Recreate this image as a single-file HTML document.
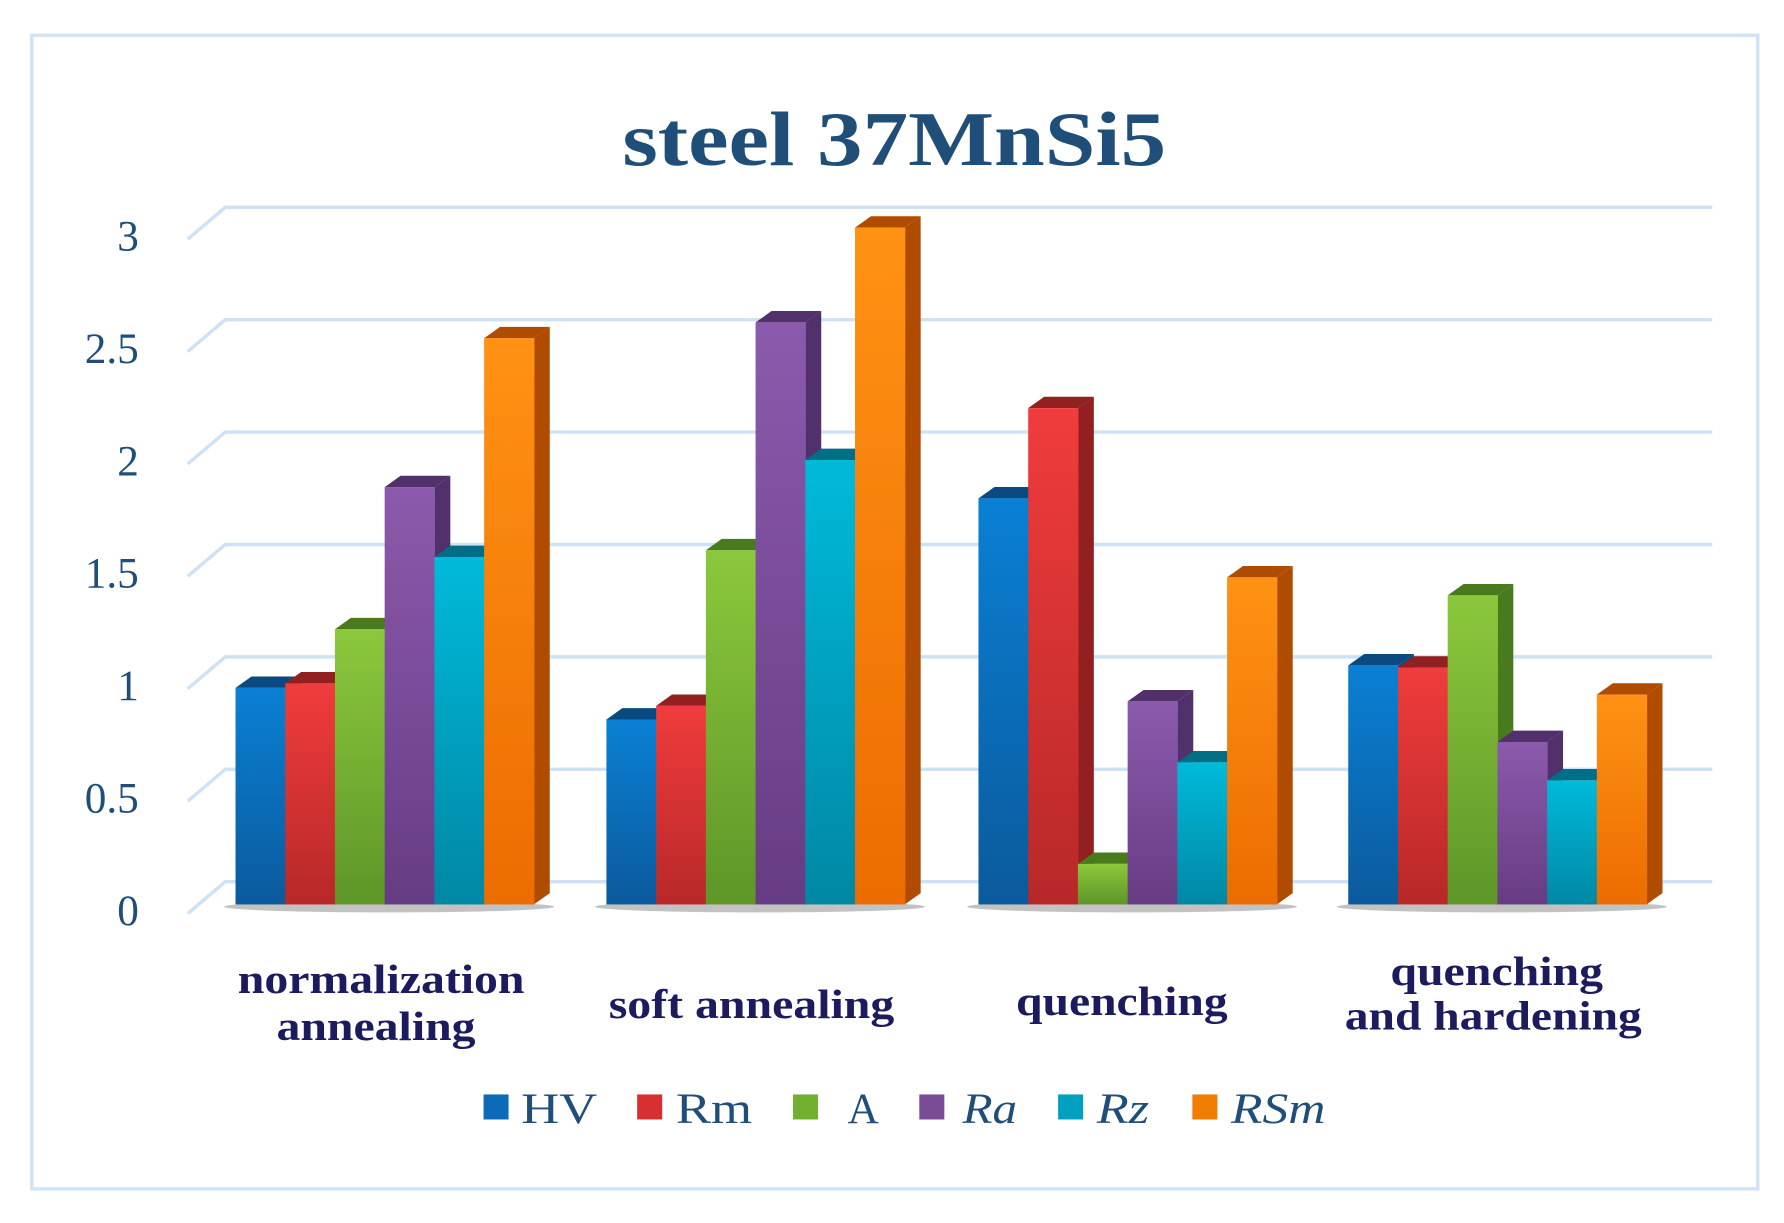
<!DOCTYPE html>
<html><head><meta charset="utf-8"><style>
html,body{margin:0;padding:0;background:#fff;width:1784px;height:1223px;overflow:hidden}
svg{display:block}
</style></head><body>
<svg id="s" width="1784" height="1223" viewBox="0 0 1568 1075" preserveAspectRatio="none" xmlns="http://www.w3.org/2000/svg">
<defs id="d"></defs>
<rect x="28" y="31" width="1517" height="1014" fill="#fff" stroke="#cfe3f3" stroke-width="3"/>
<text x="547" y="145" textLength="478" lengthAdjust="spacingAndGlyphs" font-family="Liberation Serif, serif" font-weight="bold" font-size="68" fill="#1f4e79">steel 37MnSi5</text>
<g id="g"></g>
<g font-family="Liberation Serif, serif" font-weight="bold" font-size="36" fill="#1b1b5e" lengthAdjust="spacingAndGlyphs">
<text x="209" y="873" textLength="252" lengthAdjust="spacingAndGlyphs">normalization</text><text x="243" y="914" textLength="175" lengthAdjust="spacingAndGlyphs">annealing</text>
<text x="535" y="895" textLength="251" lengthAdjust="spacingAndGlyphs">soft annealing</text>
<text x="893" y="892" textLength="186" lengthAdjust="spacingAndGlyphs">quenching</text>
<text x="1222" y="866" textLength="187" lengthAdjust="spacingAndGlyphs">quenching</text><text x="1182" y="905" textLength="261" lengthAdjust="spacingAndGlyphs">and hardening</text>
</g>
<g font-family="Liberation Serif, serif" font-size="38" fill="#1f4e79">
<rect x="425" y="962" width="22" height="22" fill="#0b6bb8"/><text x="458" y="987" textLength="67" lengthAdjust="spacingAndGlyphs">HV</text>
<rect x="560" y="962" width="22" height="22" fill="#d83030"/><text x="594" y="987" textLength="67" lengthAdjust="spacingAndGlyphs">Rm</text>
<rect x="697" y="962" width="22" height="22" fill="#72b030"/><text x="745" y="987">A</text>
<rect x="808" y="962" width="22" height="22" fill="#7a4c98"/><text x="846" y="987" font-style="italic" textLength="48" lengthAdjust="spacingAndGlyphs">Ra</text>
<rect x="930" y="962" width="22" height="22" fill="#00a0c0"/><text x="964" y="987" font-style="italic" textLength="46" lengthAdjust="spacingAndGlyphs">Rz</text>
<rect x="1048" y="962" width="22" height="22" fill="#f07c00"/><text x="1082" y="987" font-style="italic" textLength="83" lengthAdjust="spacingAndGlyphs">RSm</text>
</g>
</svg>
<script>
var ns="http://www.w3.org/2000/svg",g=document.getElementById('g'),d=document.getElementById('d');
function el(t,a,p){var e=document.createElementNS(ns,t);for(var k in a)e.setAttribute(k,a[k]);(p||g).appendChild(e);return e;}
for(var i=0;i<=6;i++){var yb=775-i*98.8,yf=yb+28;
 el('polyline',{points:"165,"+yf+" 198,"+yb+" 1505,"+yb,fill:"none",stroke:"#cde2f4","stroke-width":3});
 var t=el('text',{x:122,y:yf+10,"text-anchor":"end","font-family":"Liberation Serif, serif","font-size":38,fill:"#1f4e79"});t.textContent=(i/2).toString();}
var cols=[["#0a80d4","#0b5a9c","#0b4a80"],["#f03c3c","#b82828","#922020"],["#8cc83c","#5e9628","#4a7a1e"],["#8c5aac","#663c84","#52306c"],["#00bada","#0088a4","#006e86"],["#ff9214","#ec6c00","#b04c00"]];
cols.forEach(function(c,i){var lg=el('linearGradient',{id:'c'+i,x1:0,y1:0,x2:0,y2:1},d);el('stop',{offset:0,"stop-color":c[0]},lg);el('stop',{offset:1,"stop-color":c[1]},lg);});
var data=[[0.96,0.98,1.22,1.85,1.54,2.51],[0.82,0.88,1.57,2.58,1.97,3.0],[1.8,2.2,0.18,0.9,0.63,1.45],[1.06,1.05,1.37,0.72,0.55,0.93]];
var starts=[207,533,860,1185],w=43.7,base=795,u=198.3,dx=14,dy=10;
data.forEach(function(r,gi){
 el('ellipse',{cx:starts[gi]+135,cy:base+2,rx:145,ry:5,fill:"#777",opacity:0.45});
 r.forEach(function(v,i){var x=starts[gi]+i*w,top=base-v*u;
  el('polygon',{points:(x+w)+","+top+" "+(x+w+dx)+","+(top-dy)+" "+(x+w+dx)+","+(base-dy)+" "+(x+w)+","+base,fill:cols[i][2]});
  el('polygon',{points:x+","+top+" "+(x+dx)+","+(top-dy)+" "+(x+w+dx)+","+(top-dy)+" "+(x+w)+","+top,fill:cols[i][2]});
  el('rect',{x:x,y:top,width:w+0.5,height:base-top,fill:"url(#c"+i+")"});
 });});
</script>
</body></html>
